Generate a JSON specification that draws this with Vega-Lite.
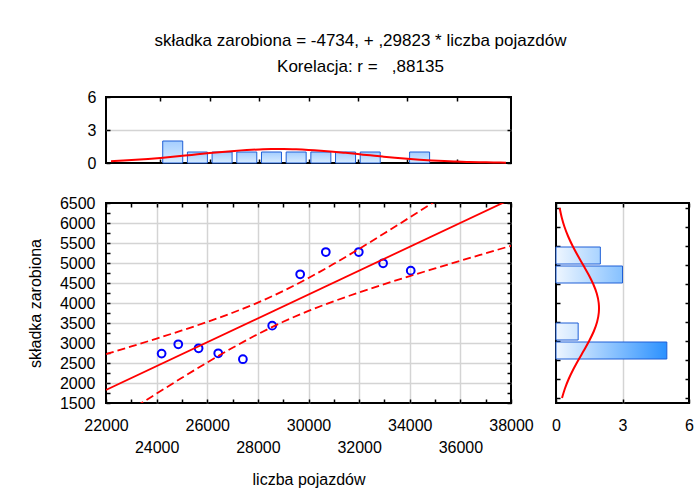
{
  "$schema": "https://vega.github.io/schema/vega-lite/v6.json",
  "padding": {"left": 26, "top": 32, "right": 0, "bottom": 0},
  "bounds": "flush",
  "spacing": 40,
  "config": {
    "font": "Liberation Sans",
    "view": {"stroke": "#000000", "strokeWidth": 2},
    "axis": {
      "domain": false,
      "labelFont": "Liberation Sans",
      "labelFontSize": 16,
      "labelColor": "#000000",
      "titleFont": "Liberation Sans",
      "titleFontSize": 16,
      "titleFontWeight": "normal",
      "titleColor": "#000000",
      "tickColor": "#000000",
      "tickSize": -4,
      "tickWidth": 1.5,
      "gridColor": "#d4d4d4",
      "gridWidth": 1.5,
      "labelOverlap": false,
      "labelFlush": false,
      "labelBound": false
    }
  },
  "title": {
    "text": ["składka zarobiona = -4734, + ,29823 * liczba pojazdów", "Korelacja: r = \u00a0\u00a0,88135"],
    "font": "Liberation Sans",
    "fontSize": 17,
    "fontWeight": "normal",
    "color": "#000000",
    "anchor": "middle",
    "frame": "bounds",
    "lineHeight": 26,
    "offset": 12
  },
  "datasets": {
    "pts": [
      {"x": 24197, "y": 2735}, {"x": 24855, "y": 2967}, {"x": 25658, "y": 2867},
      {"x": 26434, "y": 2743}, {"x": 27408, "y": 2594}, {"x": 28566, "y": 3434},
      {"x": 29671, "y": 4718}, {"x": 30684, "y": 5274}, {"x": 31987, "y": 5274},
      {"x": 32947, "y": 4992}, {"x": 34039, "y": 4809}
    ],
    "reg": [{"x": 22000, "y": 1827}, {"x": 38000, "y": 6599}],
    "band": [
      {"x": 22000, "lo": 931, "hi": 2723}, {"x": 23000, "lo": 1336, "hi": 2915},
      {"x": 24000, "lo": 1736, "hi": 3111}, {"x": 25000, "lo": 2130, "hi": 3314},
      {"x": 26000, "lo": 2513, "hi": 3527}, {"x": 27000, "lo": 2880, "hi": 3757},
      {"x": 28000, "lo": 3222, "hi": 4011}, {"x": 29000, "lo": 3530, "hi": 4300},
      {"x": 30000, "lo": 3802, "hi": 4624}, {"x": 31000, "lo": 4043, "hi": 4979},
      {"x": 32000, "lo": 4264, "hi": 5354}, {"x": 33000, "lo": 4472, "hi": 5743},
      {"x": 34000, "lo": 4672, "hi": 6140}, {"x": 35000, "lo": 4865, "hi": 6543},
      {"x": 36000, "lo": 5056, "hi": 6949}, {"x": 37000, "lo": 5243, "hi": 7358},
      {"x": 38000, "lo": 5429, "hi": 7768}
    ],
    "hx": [
      {"mid": 24500, "count": 2}, {"mid": 25500, "count": 1}, {"mid": 26500, "count": 1},
      {"mid": 27500, "count": 1}, {"mid": 28500, "count": 1}, {"mid": 29500, "count": 1},
      {"mid": 30500, "count": 1}, {"mid": 31500, "count": 1}, {"mid": 32500, "count": 1},
      {"mid": 34500, "count": 1}
    ],
    "hy": [
      {"mid": 5250, "count": 2}, {"mid": 4750, "count": 3},
      {"mid": 3250, "count": 1}, {"mid": 2750, "count": 5}
    ],
    "cx": [
      {"x": 22000, "d": 0.166}, {"x": 22500, "d": 0.221}, {"x": 23000, "d": 0.289},
      {"x": 23500, "d": 0.369}, {"x": 24000, "d": 0.461}, {"x": 24500, "d": 0.563},
      {"x": 25000, "d": 0.672}, {"x": 25500, "d": 0.787}, {"x": 26000, "d": 0.899},
      {"x": 26500, "d": 1.006}, {"x": 27000, "d": 1.101}, {"x": 27500, "d": 1.179},
      {"x": 28000, "d": 1.235}, {"x": 28500, "d": 1.265}, {"x": 29000, "d": 1.268},
      {"x": 29500, "d": 1.243}, {"x": 30000, "d": 1.192}, {"x": 30500, "d": 1.118},
      {"x": 31000, "d": 1.026}, {"x": 31500, "d": 0.921}, {"x": 32000, "d": 0.809},
      {"x": 32500, "d": 0.695}, {"x": 33000, "d": 0.584}, {"x": 33500, "d": 0.48},
      {"x": 34000, "d": 0.386}, {"x": 34500, "d": 0.304}, {"x": 35000, "d": 0.234},
      {"x": 35500, "d": 0.176}, {"x": 36000, "d": 0.13}, {"x": 36500, "d": 0.093},
      {"x": 37000, "d": 0.066}, {"x": 37500, "d": 0.045}, {"x": 38000, "d": 0.031}
    ],
    "cy": [
      {"y": 1500, "d": 0.271}, {"y": 1750, "d": 0.403}, {"y": 2000, "d": 0.572},
      {"y": 2250, "d": 0.777}, {"y": 2500, "d": 1.01}, {"y": 2750, "d": 1.256},
      {"y": 3000, "d": 1.494}, {"y": 3250, "d": 1.701}, {"y": 3500, "d": 1.853},
      {"y": 3750, "d": 1.932}, {"y": 4000, "d": 1.927}, {"y": 4250, "d": 1.839},
      {"y": 4500, "d": 1.679}, {"y": 4750, "d": 1.467}, {"y": 5000, "d": 1.226},
      {"y": 5250, "d": 0.981}, {"y": 5500, "d": 0.751}, {"y": 5750, "d": 0.55},
      {"y": 6000, "d": 0.385}, {"y": 6250, "d": 0.258}, {"y": 6500, "d": 0.166}
    ]
  },
  "vconcat": [
    {
      "width": 405,
      "height": 66,
      "layer": [
        {
          "data": {"name": "hx"},
          "mark": {
            "type": "bar", "orient": "vertical", "width": 20,
            "fill": {"gradient": "linear", "x1": 0, "y1": 0, "x2": 0, "y2": 1,
              "stops": [{"offset": 0, "color": "#a4ceff"}, {"offset": 1, "color": "#d8ecff"}]},
            "stroke": "#1f5fd6", "strokeWidth": 1
          },
          "encoding": {
            "x": {"field": "mid", "type": "quantitative",
              "scale": {"domain": [22000, 38000], "nice": false, "zero": false},
              "axis": {"orient": "bottom", "values": [24000, 26000, 28000, 30000, 32000, 34000, 36000], "labels": false, "grid": false, "title": null}},
            "y": {"field": "count", "type": "quantitative",
              "scale": {"domain": [0, 6], "nice": false},
              "axis": {"orient": "left", "values": [0, 3, 6], "title": null, "labelPadding": 14,
                "gridOpacity": {"condition": {"test": "datum.value == 3", "value": 1}, "value": 0}}}
          }
        },
        {
          "data": {"name": "cx"},
          "mark": {"type": "line", "color": "#ff0000", "strokeWidth": 2, "interpolate": "monotone"},
          "encoding": {
            "x": {"field": "x", "type": "quantitative",
              "scale": {"domain": [22000, 38000], "nice": false, "zero": false},
              "axis": {"orient": "top", "values": [24000, 26000, 28000, 30000, 32000, 34000, 36000], "labels": false, "grid": false, "title": null}},
            "y": {"field": "d", "type": "quantitative",
              "scale": {"domain": [0, 6], "nice": false},
              "axis": {"orient": "right", "values": [0, 3, 6], "labels": false, "grid": false, "title": null}}
          }
        }
      ],
      "resolve": {"axis": {"x": "independent", "y": "independent"}}
    },
    {
      "bounds": "flush",
      "spacing": 45,
      "hconcat": [
        {
          "width": 405,
          "height": 200,
          "layer": [
            {
              "data": {"name": "pts"},
              "mark": {"type": "point", "shape": "circle", "filled": false, "color": "#0000ff", "strokeWidth": 2, "size": 60, "opacity": 1},
              "encoding": {
                "x": {"field": "x", "type": "quantitative",
                  "scale": {"domain": [22000, 38000], "nice": false, "zero": false},
                  "axis": {"orient": "bottom",
                    "values": [22000, 23000, 24000, 25000, 26000, 27000, 28000, 29000, 30000, 31000, 32000, 33000, 34000, 35000, 36000, 37000, 38000],
                    "format": "d",
                    "labelExpr": "datum.value % 2000 == 0 ? datum.label : ''",
                    "labelPadding": {"condition": {"test": "datum.value % 4000 == 0", "value": 40}, "value": 18},
                    "gridOpacity": {"condition": {"test": "datum.value % 2000 == 0 && datum.value > 22000 && datum.value < 38000", "value": 1}, "value": 0},
                    "title": "liczba pojazdów", "titlePadding": 16}},
                "y": {"field": "y", "type": "quantitative",
                  "scale": {"domain": [1500, 6500], "nice": false, "zero": false},
                  "axis": {"orient": "left",
                    "values": [1500, 1750, 2000, 2250, 2500, 2750, 3000, 3250, 3500, 3750, 4000, 4250, 4500, 4750, 5000, 5250, 5500, 5750, 6000, 6250, 6500],
                    "format": "d",
                    "labelExpr": "datum.value % 500 == 0 ? datum.label : ''",
                    "labelPadding": 15,
                    "gridOpacity": {"condition": {"test": "datum.value % 500 == 0 && datum.value > 1500 && datum.value < 6500", "value": 1}, "value": 0},
                    "title": "składka zarobiona", "titlePadding": 16}}
              }
            },
            {
              "data": {"name": "reg"},
              "mark": {"type": "line", "color": "#ff0000", "strokeWidth": 1.8, "clip": true},
              "encoding": {
                "x": {"field": "x", "type": "quantitative",
                  "scale": {"domain": [22000, 38000], "nice": false, "zero": false},
                  "axis": {"orient": "top",
                    "values": [22000, 23000, 24000, 25000, 26000, 27000, 28000, 29000, 30000, 31000, 32000, 33000, 34000, 35000, 36000, 37000, 38000],
                    "labels": false, "grid": false, "title": null}},
                "y": {"field": "y", "type": "quantitative",
                  "scale": {"domain": [1500, 6500], "nice": false, "zero": false},
                  "axis": {"orient": "right",
                    "values": [1500, 1750, 2000, 2250, 2500, 2750, 3000, 3250, 3500, 3750, 4000, 4250, 4500, 4750, 5000, 5250, 5500, 5750, 6000, 6250, 6500],
                    "labels": false, "grid": false, "title": null}}
              }
            },
            {
              "data": {"name": "band"},
              "mark": {"type": "line", "color": "#ff0000", "strokeWidth": 1.8, "strokeDash": [8, 4], "clip": true, "interpolate": "monotone"},
              "encoding": {
                "x": {"field": "x", "type": "quantitative", "scale": {"domain": [22000, 38000], "nice": false, "zero": false}, "axis": null},
                "y": {"field": "hi", "type": "quantitative", "scale": {"domain": [1500, 6500], "nice": false, "zero": false}, "axis": null}
              }
            },
            {
              "data": {"name": "band"},
              "mark": {"type": "line", "color": "#ff0000", "strokeWidth": 1.8, "strokeDash": [8, 4], "clip": true, "interpolate": "monotone"},
              "encoding": {
                "x": {"field": "x", "type": "quantitative", "scale": {"domain": [22000, 38000], "nice": false, "zero": false}, "axis": null},
                "y": {"field": "lo", "type": "quantitative", "scale": {"domain": [1500, 6500], "nice": false, "zero": false}, "axis": null}
              }
            }
          ],
          "resolve": {"axis": {"x": "independent", "y": "independent"}}
        },
        {
          "width": 133,
          "height": 200,
          "layer": [
            {
              "data": {"name": "hy"},
              "transform": [{"filter": "datum.count == 5"}],
              "mark": {"type": "bar", "orient": "horizontal", "height": 17,
                "fill": {"gradient": "linear", "x1": 0, "y1": 0, "x2": 1, "y2": 0,
                  "stops": [{"offset": 0, "color": "#eef6ff"}, {"offset": 1, "color": "#2b91ff"}]},
                "stroke": "#1f5fd6", "strokeWidth": 1},
              "encoding": {
                "x": {"field": "count", "type": "quantitative",
                  "scale": {"domain": [0, 6], "nice": false},
                  "axis": {"orient": "bottom", "values": [0, 3, 6], "title": null, "labelPadding": 18,
                    "gridOpacity": {"condition": {"test": "datum.value == 3", "value": 1}, "value": 0}}},
                "y": {"field": "mid", "type": "quantitative",
                  "scale": {"domain": [1500, 6500], "nice": false, "zero": false},
                  "axis": {"orient": "left", "values": [1500, 2000, 2500, 3000, 3500, 4000, 4500, 5000, 5500, 6000, 6500], "labels": false, "grid": false, "title": null}}
              }
            },
            {
              "data": {"name": "hy"},
              "transform": [{"filter": "datum.count == 3"}],
              "mark": {"type": "bar", "orient": "horizontal", "height": 17,
                "fill": {"gradient": "linear", "x1": 0, "y1": 0, "x2": 1, "y2": 0,
                  "stops": [{"offset": 0, "color": "#eef6ff"}, {"offset": 1, "color": "#86c1ff"}]},
                "stroke": "#1f5fd6", "strokeWidth": 1},
              "encoding": {
                "x": {"field": "count", "type": "quantitative", "scale": {"domain": [0, 6], "nice": false}, "axis": null},
                "y": {"field": "mid", "type": "quantitative", "scale": {"domain": [1500, 6500], "nice": false, "zero": false}, "axis": null}
              }
            },
            {
              "data": {"name": "hy"},
              "transform": [{"filter": "datum.count == 2"}],
              "mark": {"type": "bar", "orient": "horizontal", "height": 17,
                "fill": {"gradient": "linear", "x1": 0, "y1": 0, "x2": 1, "y2": 0,
                  "stops": [{"offset": 0, "color": "#eef6ff"}, {"offset": 1, "color": "#a9d3ff"}]},
                "stroke": "#1f5fd6", "strokeWidth": 1},
              "encoding": {
                "x": {"field": "count", "type": "quantitative", "scale": {"domain": [0, 6], "nice": false}, "axis": null},
                "y": {"field": "mid", "type": "quantitative", "scale": {"domain": [1500, 6500], "nice": false, "zero": false}, "axis": null}
              }
            },
            {
              "data": {"name": "hy"},
              "transform": [{"filter": "datum.count == 1"}],
              "mark": {"type": "bar", "orient": "horizontal", "height": 17,
                "fill": {"gradient": "linear", "x1": 0, "y1": 0, "x2": 1, "y2": 0,
                  "stops": [{"offset": 0, "color": "#eef6ff"}, {"offset": 1, "color": "#cfe6ff"}]},
                "stroke": "#1f5fd6", "strokeWidth": 1},
              "encoding": {
                "x": {"field": "count", "type": "quantitative", "scale": {"domain": [0, 6], "nice": false}, "axis": null},
                "y": {"field": "mid", "type": "quantitative", "scale": {"domain": [1500, 6500], "nice": false, "zero": false}, "axis": null}
              }
            },
            {
              "data": {"name": "cy"},
              "mark": {"type": "line", "color": "#ff0000", "strokeWidth": 2, "interpolate": "cardinal", "clip": true},
              "encoding": {
                "x": {"field": "d", "type": "quantitative",
                  "scale": {"domain": [0, 6], "nice": false},
                  "axis": {"orient": "top", "values": [0, 3, 6], "labels": false, "grid": false, "title": null}},
                "y": {"field": "y", "type": "quantitative",
                  "scale": {"domain": [1500, 6500], "nice": false, "zero": false},
                  "axis": {"orient": "right", "values": [1500, 2000, 2500, 3000, 3500, 4000, 4500, 5000, 5500, 6000, 6500], "labels": false, "grid": false, "title": null}},
                "order": {"field": "y", "type": "quantitative"}
              }
            }
          ],
          "resolve": {"axis": {"x": "independent", "y": "independent"}}
        }
      ]
    }
  ]
}
